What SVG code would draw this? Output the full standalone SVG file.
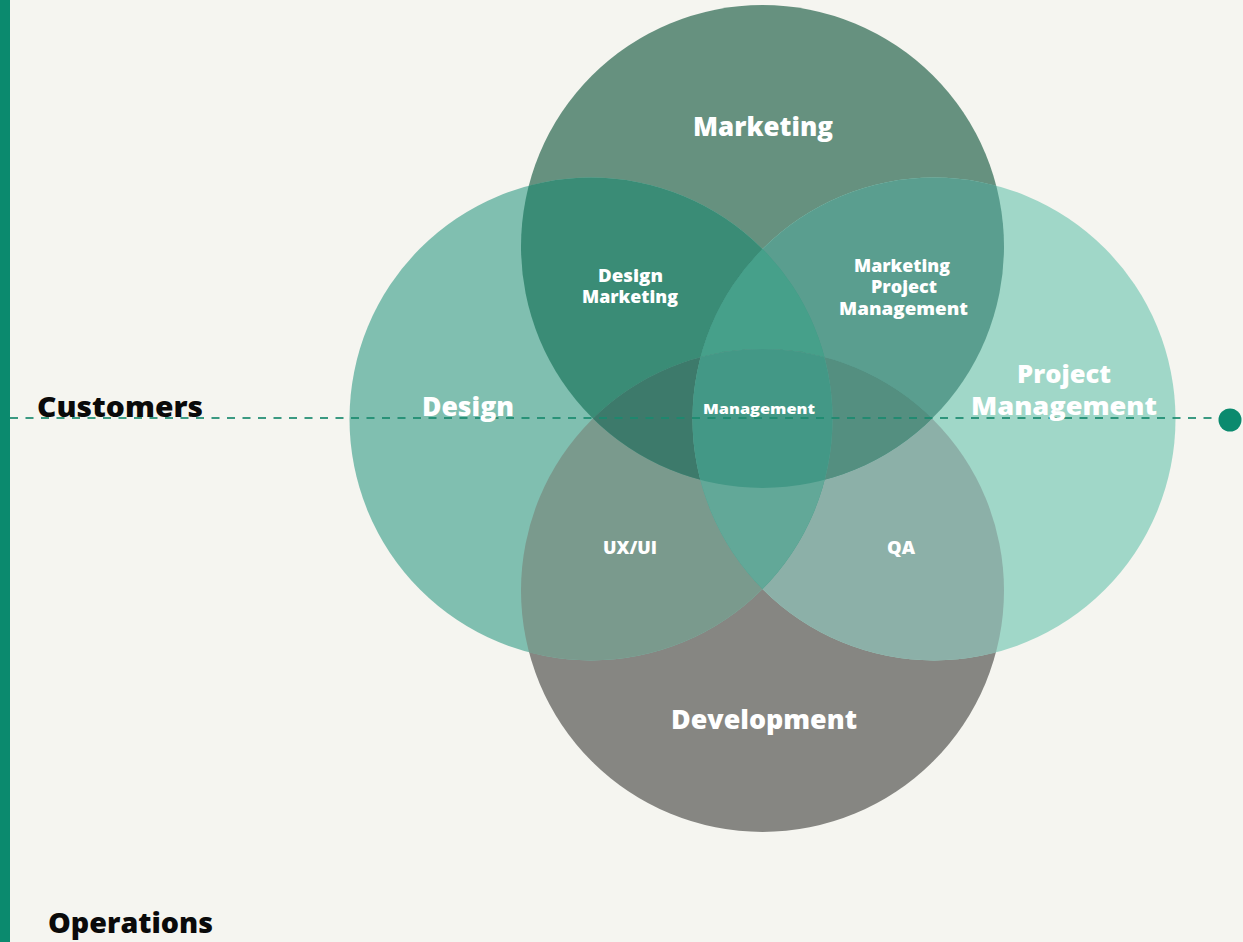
<svg xmlns="http://www.w3.org/2000/svg" width="1243" height="942" viewBox="0 0 1243 942">
  <style>
    .lbl { font-family: "Open Sans", "Noto Sans", sans-serif; font-weight: 800; fill: #ffffff; text-anchor: middle; }
    .big { font-size: 26px; }
    .pm { font-size: 24.5px; }
    .mid { font-size: 17px; }
    .sm { font-size: 14.5px; }
    .side { font-family: "Open Sans", "Noto Sans", sans-serif; font-weight: 800; font-size: 29px; fill: #0a0a0a; }
  </style>
  <defs>
    <clipPath id="clipD"><circle cx="591" cy="419" r="241.5"/></clipPath>
    <clipPath id="clipM"><circle cx="762.5" cy="246.5" r="241.5"/></clipPath>
    <clipPath id="clipP"><circle cx="934" cy="419" r="241.5"/></clipPath>
    <clipPath id="clipV"><circle cx="762.5" cy="590.5" r="241.5"/></clipPath>
  </defs>

  <rect x="0" y="0" width="1243" height="942" fill="#f5f5f0"/>
  <rect x="0" y="0" width="10" height="942" fill="#0b8a6e"/>

  <g id="circles">
    <g id="marketing"><circle cx="762.5" cy="246.5" r="241.5" fill="#66917f"/></g>
    <g id="development"><circle cx="762.5" cy="590.5" r="241.5" fill="#868682"/></g>
    <g id="design"><circle cx="591" cy="419" r="241.5" fill="#80bfb0"/></g>
    <g id="project-management"><circle cx="934" cy="419" r="241.5" fill="#a0d7c8"/></g>
  </g>

  <g id="overlaps">
    <circle cx="591" cy="419" r="241.5" fill="#3a8c76" clip-path="url(#clipM)"/>
    <circle cx="591" cy="419" r="241.5" fill="#7a9a8d" clip-path="url(#clipV)"/>
    <circle cx="934" cy="419" r="241.5" fill="#5a9e8f" clip-path="url(#clipM)"/>
    <circle cx="934" cy="419" r="241.5" fill="#8cb0a8" clip-path="url(#clipV)"/>
    <circle cx="762.5" cy="246.5" r="241.5" fill="#439886" clip-path="url(#clipV)"/>
    <circle cx="591" cy="419" r="241.5" fill="#439886" clip-path="url(#clipP)"/>
    <g clip-path="url(#clipP)"><circle cx="591" cy="419" r="241.5" fill="#46a08a" clip-path="url(#clipM)"/></g>
    <g clip-path="url(#clipV)"><circle cx="591" cy="419" r="241.5" fill="#3d7a6b" clip-path="url(#clipM)"/></g>
    <g clip-path="url(#clipV)"><circle cx="934" cy="419" r="241.5" fill="#548f80" clip-path="url(#clipM)"/></g>
    <g clip-path="url(#clipV)"><circle cx="591" cy="419" r="241.5" fill="#62a898" clip-path="url(#clipP)"/></g>
    <g clip-path="url(#clipV)"><g clip-path="url(#clipP)"><circle cx="591" cy="419" r="241.5" fill="#439886" clip-path="url(#clipM)"/></g></g>
  </g>

  <g id="connectors">
    <line x1="10" y1="418" x2="1226" y2="418" stroke="#1a8a6e" stroke-opacity="0.85" stroke-width="2" stroke-dasharray="8 7.5"/>
    <circle cx="1230" cy="420" r="11.5" fill="#0b8a6e"/>
  </g>

  <g id="labels">
    <text class="lbl big" x="763" y="136" textLength="140" lengthAdjust="spacingAndGlyphs">Marketing</text>
    <text class="lbl big" x="468" y="416" textLength="92" lengthAdjust="spacingAndGlyphs">Design</text>
    <text class="lbl pm" x="1064" y="383" textLength="94" lengthAdjust="spacingAndGlyphs">Project</text>
    <text class="lbl pm" x="1064" y="415" textLength="186" lengthAdjust="spacingAndGlyphs">Management</text>
    <text class="lbl big" x="764" y="729" textLength="186" lengthAdjust="spacingAndGlyphs">Development</text>

    <text class="lbl mid" x="630.5" y="282" textLength="65" lengthAdjust="spacingAndGlyphs">Design</text>
    <text class="lbl mid" x="630" y="303" textLength="96" lengthAdjust="spacingAndGlyphs">Marketing</text>
    <text class="lbl mid" x="902" y="272" textLength="96" lengthAdjust="spacingAndGlyphs">Marketing</text>
    <text class="lbl mid" x="904" y="293" textLength="66" lengthAdjust="spacingAndGlyphs">Project</text>
    <text class="lbl mid" x="903.5" y="315" textLength="129" lengthAdjust="spacingAndGlyphs">Management</text>
    <text class="lbl sm" x="759" y="414" textLength="112" lengthAdjust="spacingAndGlyphs">Management</text>
    <text class="lbl mid" x="630" y="554" textLength="54" lengthAdjust="spacingAndGlyphs">UX/UI</text>
    <text class="lbl mid" x="901" y="554" textLength="28" lengthAdjust="spacingAndGlyphs">QA</text>

    <text class="side" x="37" y="417" textLength="166" lengthAdjust="spacingAndGlyphs">Customers</text>
    <text class="side" x="48" y="933" textLength="165" lengthAdjust="spacingAndGlyphs">Operations</text>
  </g>
</svg>
